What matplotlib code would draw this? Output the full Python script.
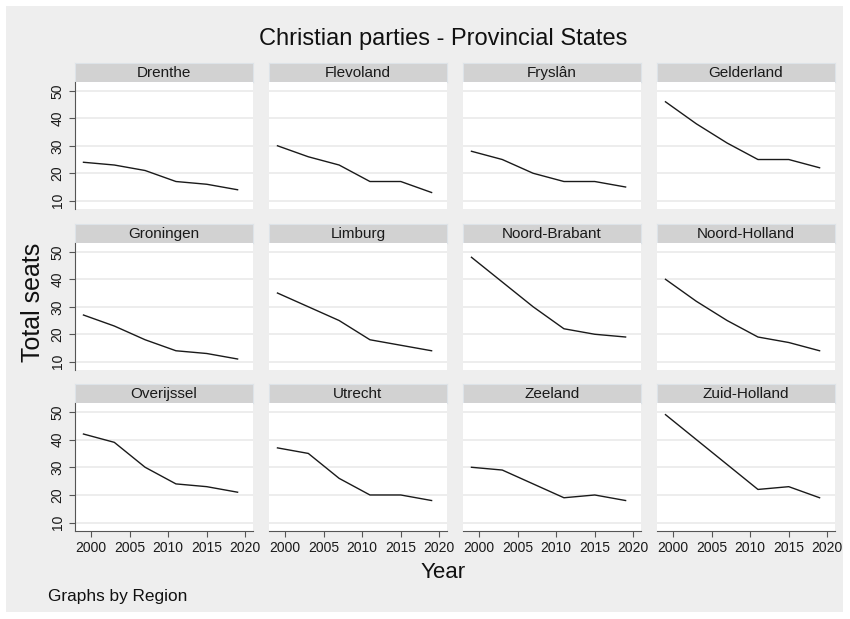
import matplotlib.pyplot as plt
from matplotlib.patches import Rectangle

plt.rcParams['font.family'] = ['Liberation Sans', 'DejaVu Sans']

years = [1999, 2003, 2007, 2011, 2015, 2019]
regions = ['Drenthe', 'Flevoland', 'Fryslân', 'Gelderland',
           'Groningen', 'Limburg', 'Noord-Brabant', 'Noord-Holland',
           'Overijssel', 'Utrecht', 'Zeeland', 'Zuid-Holland']
drenthe = [24, 23, 21, 17, 16, 14]
flevoland = [30, 26, 23, 17, 17, 13]
fryslan = [28, 25, 20, 17, 17, 15]
gelderland = [46, 38, 31, 25, 25, 22]
groningen = [27, 23, 18, 14, 13, 11]
limburg = [35, 30, 25, 18, 16, 14]
noord_brabant = [48, 39, 30, 22, 20, 19]
noord_holland = [40, 32, 25, 19, 17, 14]
overijssel = [42, 39, 30, 24, 23, 21]
utrecht = [37, 35, 26, 20, 20, 18]
zeeland = [30, 29, 24, 19, 20, 18]
zuid_holland = [49, 40, 31, 22, 23, 19]
seats = [drenthe, flevoland, fryslan, gelderland, groningen, limburg,
         noord_brabant, noord_holland, overijssel, utrecht, zeeland, zuid_holland]
yticks = [10, 20, 30, 40, 50]
xticks = [2000, 2005, 2010, 2015, 2020]

W, H = 850, 619
fig = plt.figure(figsize=(W / 100, H / 100), dpi=100)
fig.patch.set_facecolor('white')
bg = '#eeeeee'
fig.patches.append(Rectangle((6 / W, 1 - 612 / H), 837 / W, 606 / H,
                             transform=fig.transFigure, facecolor=bg,
                             edgecolor='none', zorder=-10))

def box(x0, y0, x1, y1):
    # pixel coords (top-left origin) -> figure fraction
    return [x0 / W, 1 - y1 / H, (x1 - x0) / W, (y1 - y0) / H]

col_x = [75, 269, 463, 657]
pw = 178
row_y = [(63, 82, 209), (224, 243, 370), (384, 403, 531)]

for i, (name, vals) in enumerate(zip(regions, seats)):
    r, c = divmod(i, 4)
    x0 = col_x[c]
    ys, yp, yb = row_y[r]
    # strip
    sax = fig.add_axes(box(x0, ys, x0 + pw, yp))
    sax.set_facecolor('#d2d2d2')
    sax.set_xticks([])
    sax.set_yticks([])
    for s in sax.spines.values():
        s.set_color('#dde3e8')
        s.set_linewidth(0.8)
    sax.text(0.5, 0.45, name, ha='center', va='center', fontsize=11, color='#1a1a1a',
             transform=sax.transAxes)
    # plot
    ax = fig.add_axes(box(x0, yp, x0 + pw, yb))
    ax.set_facecolor('white')
    ax.plot(years, vals, color='#1a1a1a', lw=1.0)
    ax.set_xlim(1997.9, 2021.0)
    ax.set_ylim(7.0, 53.2)
    ax.set_yticks(yticks)
    ax.set_xticks(xticks)
    ax.grid(axis='y', color='#eaeaea', lw=1.2)
    ax.set_axisbelow(True)
    for s in ['top', 'right']:
        ax.spines[s].set_visible(False)
    ax.spines['left'].set_visible(c == 0)
    ax.spines['bottom'].set_visible(r == 2)
    ax.spines['left'].set_color('#555555')
    ax.spines['bottom'].set_color('#555555')
    ax.tick_params(colors='#555555', labelcolor='#1a1a1a', labelsize=10, length=4)
    if c == 0:
        for lab in ax.get_yticklabels():
            lab.set_rotation(90)
            lab.set_va('center')
    else:
        ax.tick_params(axis='y', left=False, labelleft=False)
    if r != 2:
        ax.tick_params(axis='x', bottom=False, labelbottom=False)

fig.text(443 / W, 1 - 39 / H, 'Christian parties - Provincial States', ha='center', va='center',
         fontsize=17, color='#111111')
fig.text(33 / W, 1 - 302 / H, 'Total seats', ha='center', va='center', rotation=90,
         fontsize=18, color='#111111')
fig.text(443 / W, 1 - 573 / H, 'Year', ha='center', va='center', fontsize=16, color='#111111')
fig.text(48 / W, 1 - 596 / H, 'Graphs by Region', ha='left', va='center', fontsize=12.4,
         color='#111111')

fig.savefig('out.png', dpi=100, facecolor=fig.get_facecolor())
